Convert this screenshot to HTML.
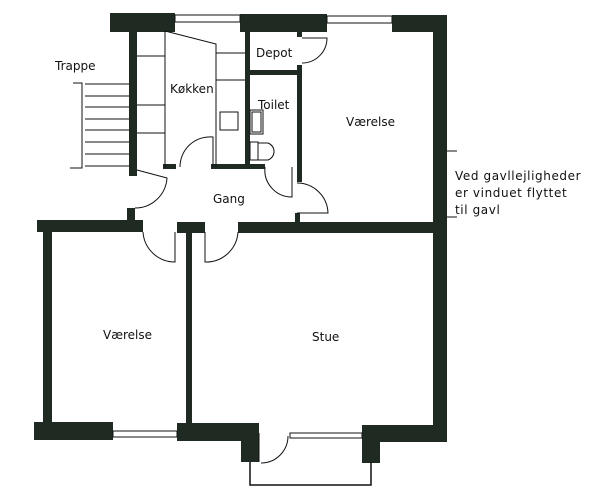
<!DOCTYPE html>
<html><head><meta charset="utf-8"><style>
html,body{margin:0;padding:0;background:#fff}
svg{display:block}
text{font-family:"DejaVu Sans","Liberation Sans",sans-serif;font-size:12px;fill:#111}
.n{letter-spacing:0.6px}
</style></head><body>
<svg width="600" height="502" viewBox="0 0 600 502" xmlns="http://www.w3.org/2000/svg">
<g fill="#1e2a22">
<rect x="110" y="13" width="65" height="19"/>
<rect x="240" y="14" width="87" height="18"/>
<rect x="392" y="15" width="55" height="17"/>
<rect x="433" y="15" width="14" height="427"/>
<rect x="129" y="31" width="8" height="145"/>
<rect x="245" y="31" width="5" height="137"/>
<rect x="248" y="70" width="54" height="5"/>
<rect x="297" y="65" width="5" height="117"/>
<rect x="297" y="31" width="5" height="6"/>
<rect x="163" y="164" width="13" height="5"/>
<rect x="211" y="164" width="54" height="5"/>
<rect x="127" y="208" width="8" height="14"/>
<rect x="37" y="220" width="106" height="12"/>
<rect x="177" y="222" width="28" height="11"/>
<rect x="186" y="230" width="6" height="195"/>
<rect x="238" y="222" width="196" height="11"/>
<rect x="295" y="213" width="5" height="10"/>
<rect x="43" y="222" width="9" height="203"/>
<rect x="34" y="422" width="79" height="18"/>
<rect x="177" y="423" width="82" height="18"/>
<rect x="241" y="430" width="18" height="32"/>
<rect x="362" y="425" width="85" height="17"/>
<rect x="362" y="430" width="18" height="33"/>
</g>
<g fill="none" stroke="#111" stroke-width="1">
<rect x="175" y="15" width="65" height="7"/>
<rect x="327" y="16" width="65" height="7"/>
<rect x="113" y="431" width="64" height="6"/>
<rect x="290" y="433" width="72" height="5"/>
<polyline points="250,462 250,485 371,485 371,462" stroke-width="1.5"/>
<line x1="259" y1="433" x2="259" y2="462"/>
<polyline points="73,83 82,83 82,168 70,168"/>
<line x1="85" y1="84" x2="129" y2="84"/><line x1="85" y1="96" x2="129" y2="96"/>
<line x1="85" y1="107" x2="129" y2="107"/><line x1="85" y1="119" x2="129" y2="119"/>
<line x1="85" y1="130" x2="129" y2="130"/><line x1="85" y1="142" x2="129" y2="142"/>
<line x1="85" y1="154" x2="129" y2="154"/><line x1="85" y1="166" x2="129" y2="166"/>
<line x1="165" y1="31" x2="165" y2="167"/>
<line x1="137" y1="56" x2="165" y2="56"/><line x1="137" y1="105" x2="165" y2="105"/>
<line x1="137" y1="133" x2="165" y2="133"/>
<polyline points="165,31 216,44 216,167"/>
<line x1="216" y1="53" x2="245" y2="53"/><line x1="216" y1="80" x2="245" y2="80"/>
<rect x="220" y="112" width="18" height="18"/>
<rect x="250" y="110" width="13" height="24"/><rect x="252" y="112" width="9" height="20"/>
<rect x="250" y="142" width="8" height="18"/>
<path d="M258,143 H268 A9,9 0 0 1 268,160 H258"/>
<path d="M213,167 V137 A30,30 0 0 0 180,167"/>
<path d="M302,38 H327 A25,25 0 0 1 302,63"/>
<path d="M292,167 V197 A27,27 0 0 1 265,167"/>
<path d="M297,213 H328 A31,31 0 0 0 297,183"/>
<path d="M137,170 L167,178 A32,32 0 0 1 135,208"/>
<path d="M175,232 V262 A32,32 0 0 1 143,232"/>
<path d="M205,232 V262 A32,32 0 0 0 238,232"/>
<path d="M261,463 A27,27 0 0 0 288,436"/>
<line x1="447" y1="151" x2="457" y2="151"/>
<line x1="447" y1="217" x2="457" y2="217"/>
</g>
<text x="55" y="70">Trappe</text>
<text x="170" y="93">Køkken</text>
<text x="256" y="57">Depot</text>
<text x="258" y="109">Toilet</text>
<text x="346" y="126">Værelse</text>
<text x="213" y="203">Gang</text>
<text x="103" y="339">Værelse</text>
<text x="312" y="341">Stue</text>
<text class="n" x="455" y="180">Ved gavllejligheder</text>
<text class="n" x="455" y="197">er vinduet flyttet</text>
<text class="n" x="455" y="214">til gavl</text>
</svg>
</body></html>
